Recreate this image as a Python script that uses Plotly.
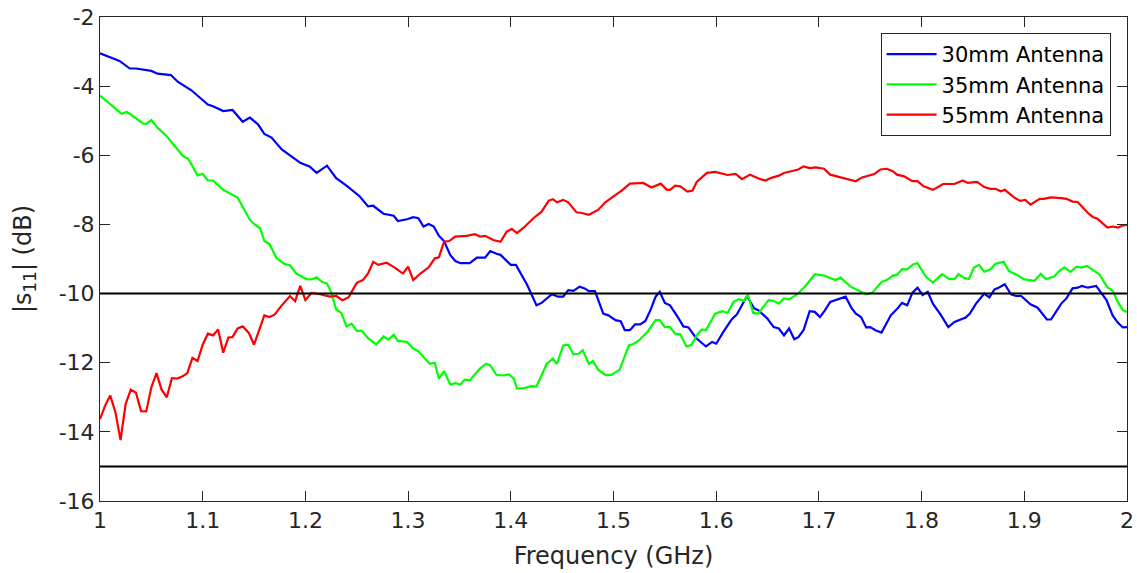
import plotly.graph_objects as go

# Measured reflection coefficient |S11| (dB) versus frequency (GHz)
freq_30mm = [1.000, 1.019, 1.029, 1.035, 1.050, 1.056, 1.069, 1.076, 1.089, 1.097,
             1.105, 1.110, 1.120, 1.129, 1.139, 1.146, 1.154, 1.160, 1.167, 1.177,
             1.185, 1.195, 1.204, 1.211, 1.221, 1.230, 1.240, 1.253, 1.261, 1.266,
             1.276, 1.286, 1.290, 1.299, 1.305, 1.310, 1.315, 1.320, 1.325, 1.330,
             1.335, 1.341, 1.346, 1.351, 1.360, 1.367, 1.375, 1.380, 1.386, 1.390,
             1.400, 1.405, 1.416, 1.425, 1.430, 1.440, 1.446, 1.451, 1.456, 1.461,
             1.467, 1.472, 1.476, 1.482, 1.490, 1.495, 1.502, 1.507, 1.511, 1.516,
             1.521, 1.526, 1.531, 1.536, 1.541, 1.545, 1.550, 1.555, 1.562, 1.568,
             1.573, 1.580, 1.586, 1.590, 1.596, 1.600, 1.607, 1.615, 1.620, 1.630,
             1.637, 1.641, 1.650, 1.656, 1.661, 1.666, 1.671, 1.676, 1.680, 1.685,
             1.691, 1.696, 1.701, 1.706, 1.711, 1.719, 1.726, 1.732, 1.736, 1.741,
             1.746, 1.750, 1.755, 1.761, 1.770, 1.776, 1.781, 1.786, 1.791, 1.796,
             1.801, 1.806, 1.811, 1.819, 1.826, 1.832, 1.838, 1.843, 1.847, 1.853,
             1.861, 1.866, 1.871, 1.875, 1.881, 1.887, 1.892, 1.897, 1.906, 1.913,
             1.922, 1.926, 1.936, 1.941, 1.947, 1.952, 1.956, 1.962, 1.970, 1.975,
             1.980, 1.986, 1.991, 1.996, 2.000]
s11_30mm = [-3.05, -3.27, -3.49, -3.49, -3.56, -3.64, -3.68, -3.88, -4.12, -4.33,
            -4.53, -4.58, -4.72, -4.69, -5.03, -4.91, -5.11, -5.38, -5.49, -5.83,
            -6.00, -6.22, -6.32, -6.51, -6.30, -6.66, -6.88, -7.19, -7.48, -7.46,
            -7.69, -7.75, -7.90, -7.85, -7.79, -7.82, -8.06, -7.99, -8.06, -8.33,
            -8.48, -8.88, -9.06, -9.12, -9.12, -8.96, -8.96, -8.77, -8.85, -8.88,
            -9.17, -9.17, -9.75, -10.34, -10.27, -10.02, -10.09, -10.09, -9.90, -9.92,
            -9.80, -9.85, -9.93, -9.93, -10.58, -10.63, -10.77, -10.80, -11.06, -11.06,
            -10.89, -10.89, -10.79, -10.48, -10.09, -9.95, -10.27, -10.34, -10.65, -10.95,
            -10.98, -11.27, -11.43, -11.53, -11.40, -11.45, -11.11, -10.75, -10.61, -10.07,
            -10.43, -10.48, -10.73, -10.97, -11.01, -11.21, -11.01, -11.32, -11.26, -11.06,
            -10.51, -10.53, -10.68, -10.48, -10.24, -10.16, -10.09, -10.43, -10.58, -10.68,
            -10.98, -10.97, -11.06, -11.13, -10.63, -10.45, -10.27, -10.34, -9.98, -9.83,
            -10.04, -9.95, -10.29, -10.63, -10.97, -10.82, -10.75, -10.69, -10.58, -10.29,
            -10.00, -10.11, -9.88, -9.83, -9.73, -10.02, -10.07, -10.07, -10.31, -10.41,
            -10.75, -10.75, -10.29, -10.14, -9.85, -9.83, -9.78, -9.83, -9.78, -9.98,
            -10.19, -10.63, -10.84, -10.98, -10.97]

freq_35mm = [1.000, 1.009, 1.021, 1.026, 1.030, 1.042, 1.045, 1.050, 1.056, 1.065,
             1.069, 1.074, 1.081, 1.086, 1.095, 1.100, 1.105, 1.110, 1.120, 1.134,
             1.146, 1.151, 1.156, 1.160, 1.165, 1.172, 1.180, 1.185, 1.191, 1.201,
             1.206, 1.211, 1.216, 1.221, 1.225, 1.230, 1.235, 1.240, 1.245, 1.250,
             1.255, 1.261, 1.269, 1.276, 1.281, 1.286, 1.290, 1.299, 1.305, 1.310,
             1.321, 1.326, 1.330, 1.335, 1.341, 1.346, 1.351, 1.355, 1.360, 1.370,
             1.376, 1.380, 1.386, 1.393, 1.398, 1.403, 1.406, 1.412, 1.420, 1.425,
             1.435, 1.441, 1.445, 1.451, 1.456, 1.461, 1.466, 1.470, 1.476, 1.480,
             1.485, 1.492, 1.498, 1.506, 1.515, 1.520, 1.525, 1.533, 1.541, 1.545,
             1.550, 1.555, 1.560, 1.565, 1.571, 1.576, 1.581, 1.586, 1.590, 1.599,
             1.606, 1.611, 1.617, 1.622, 1.627, 1.631, 1.636, 1.641, 1.651, 1.656,
             1.661, 1.666, 1.671, 1.679, 1.687, 1.696, 1.705, 1.716, 1.721, 1.731,
             1.741, 1.746, 1.752, 1.761, 1.766, 1.772, 1.776, 1.781, 1.786, 1.792,
             1.796, 1.804, 1.811, 1.820, 1.827, 1.832, 1.836, 1.841, 1.846, 1.851,
             1.856, 1.861, 1.867, 1.872, 1.880, 1.885, 1.893, 1.900, 1.910, 1.916,
             1.921, 1.929, 1.934, 1.939, 1.945, 1.951, 1.956, 1.961, 1.967, 1.973,
             1.981, 1.986, 1.991, 1.996, 2.000]
s11_35mm = [-4.27, -4.50, -4.80, -4.75, -4.82, -5.08, -5.09, -4.98, -5.20, -5.45,
            -5.59, -5.79, -6.03, -6.10, -6.58, -6.54, -6.73, -6.73, -7.00, -7.22,
            -7.87, -8.01, -8.11, -8.48, -8.57, -8.98, -9.15, -9.18, -9.42, -9.58,
            -9.59, -9.53, -9.66, -9.71, -9.95, -10.46, -10.56, -10.95, -10.87, -11.08,
            -11.08, -11.29, -11.47, -11.24, -11.33, -11.19, -11.37, -11.40, -11.59, -11.67,
            -12.03, -12.00, -12.46, -12.24, -12.63, -12.59, -12.63, -12.49, -12.51, -12.17,
            -12.03, -12.08, -12.35, -12.37, -12.34, -12.46, -12.74, -12.74, -12.68, -12.69,
            -12.03, -11.88, -12.03, -11.50, -11.48, -11.76, -11.74, -11.64, -12.03, -11.95,
            -12.20, -12.35, -12.35, -12.20, -11.50, -11.45, -11.35, -11.11, -10.77, -10.77,
            -10.97, -10.97, -11.16, -11.18, -11.53, -11.48, -11.21, -11.04, -11.06, -10.58,
            -10.51, -10.56, -10.24, -10.16, -10.21, -10.04, -10.56, -10.58, -10.19, -10.21,
            -10.29, -10.14, -10.17, -10.02, -9.78, -9.44, -9.48, -9.61, -9.54, -9.80,
            -9.96, -10.02, -9.98, -9.66, -9.61, -9.48, -9.46, -9.29, -9.30, -9.15,
            -9.12, -9.51, -9.68, -9.44, -9.58, -9.58, -9.44, -9.54, -9.58, -9.25,
            -9.17, -9.37, -9.30, -9.14, -9.08, -9.35, -9.46, -9.59, -9.63, -9.43,
            -9.58, -9.51, -9.35, -9.24, -9.37, -9.22, -9.25, -9.20, -9.32, -9.44,
            -9.82, -9.92, -10.24, -10.48, -10.53]

freq_55mm = [1.000, 1.005, 1.010, 1.015, 1.020, 1.025, 1.030, 1.035, 1.040, 1.045,
             1.050, 1.055, 1.060, 1.065, 1.070, 1.075, 1.080, 1.085, 1.090, 1.095,
             1.100, 1.105, 1.110, 1.115, 1.120, 1.125, 1.129, 1.134, 1.139, 1.145,
             1.150, 1.156, 1.160, 1.165, 1.170, 1.177, 1.185, 1.190, 1.195, 1.200,
             1.206, 1.214, 1.224, 1.230, 1.236, 1.242, 1.250, 1.256, 1.261, 1.266,
             1.271, 1.279, 1.287, 1.295, 1.300, 1.305, 1.312, 1.320, 1.326, 1.330,
             1.335, 1.340, 1.346, 1.357, 1.365, 1.370, 1.375, 1.383, 1.390, 1.396,
             1.401, 1.406, 1.412, 1.422, 1.430, 1.437, 1.441, 1.445, 1.451, 1.456,
             1.464, 1.469, 1.476, 1.485, 1.492, 1.500, 1.508, 1.516, 1.529, 1.537,
             1.546, 1.552, 1.555, 1.560, 1.565, 1.572, 1.577, 1.581, 1.591, 1.599,
             1.611, 1.619, 1.625, 1.633, 1.643, 1.648, 1.653, 1.661, 1.666, 1.676,
             1.680, 1.685, 1.691, 1.697, 1.705, 1.711, 1.721, 1.729, 1.736, 1.742,
             1.754, 1.760, 1.766, 1.772, 1.776, 1.783, 1.791, 1.796, 1.802, 1.811,
             1.815, 1.821, 1.832, 1.840, 1.845, 1.854, 1.861, 1.867, 1.872, 1.877,
             1.881, 1.890, 1.896, 1.901, 1.906, 1.915, 1.919, 1.926, 1.936, 1.941,
             1.947, 1.952, 1.962, 1.967, 1.971, 1.981, 1.986, 1.991, 1.996, 2.000]
s11_55mm = [-13.63, -13.24, -12.95, -13.43, -14.24, -13.19, -12.78, -12.87, -13.40, -13.41,
            -12.71, -12.30, -12.78, -13.00, -12.45, -12.46, -12.40, -12.30, -11.86, -11.95,
            -11.48, -11.16, -11.21, -11.04, -11.71, -11.27, -11.26, -11.01, -10.95, -11.14,
            -11.48, -10.98, -10.63, -10.68, -10.61, -10.34, -10.07, -10.22, -9.78, -10.19,
            -9.98, -10.02, -10.09, -10.07, -10.19, -10.11, -9.69, -9.61, -9.42, -9.08,
            -9.17, -9.11, -9.25, -9.42, -9.22, -9.61, -9.42, -9.24, -8.98, -8.95,
            -8.50, -8.48, -8.35, -8.33, -8.28, -8.35, -8.33, -8.45, -8.50, -8.21,
            -8.13, -8.25, -8.11, -7.82, -7.63, -7.31, -7.27, -7.36, -7.29, -7.36,
            -7.65, -7.67, -7.72, -7.58, -7.36, -7.19, -7.02, -6.82, -6.80, -6.93,
            -6.82, -7.00, -7.00, -6.88, -6.90, -7.05, -7.02, -6.77, -6.51, -6.48,
            -6.57, -6.54, -6.69, -6.56, -6.69, -6.73, -6.66, -6.59, -6.51, -6.44,
            -6.41, -6.32, -6.37, -6.35, -6.39, -6.56, -6.63, -6.68, -6.75, -6.64,
            -6.54, -6.41, -6.39, -6.46, -6.56, -6.61, -6.75, -6.75, -6.90, -7.00,
            -6.93, -6.83, -6.83, -6.73, -6.80, -6.77, -6.92, -6.97, -6.97, -7.04,
            -7.00, -7.22, -7.32, -7.29, -7.43, -7.26, -7.26, -7.22, -7.24, -7.26,
            -7.34, -7.35, -7.67, -7.79, -7.83, -8.09, -8.06, -8.09, -8.03, -8.01]

series_names = ["30mm Antenna", "35mm Antenna", "55mm Antenna"]
series_colors = ["#0000ff", "#00ff00", "#ff0000"]

# Axis ticks (labels use a plain hyphen for the minus sign)
x_tickvals = [1.0, 1.1, 1.2, 1.3, 1.4, 1.5, 1.6, 1.7, 1.8, 1.9, 2.0]
x_ticktext = ["1", "1.1", "1.2", "1.3", "1.4", "1.5", "1.6", "1.7", "1.8", "1.9", "2"]
y_tickvals = [-16, -14, -12, -10, -8, -6, -4, -2]
y_ticktext = ["-16", "-14", "-12", "-10", "-8", "-6", "-4", "-2"]

# Reference levels (dB)
threshold_levels = [-10, -15]

AXIS_COLOR = "#262626"
FONT = "DejaVu Sans"

fig = go.Figure()
for name, color, fx, fy in zip(series_names, series_colors,
                               [freq_30mm, freq_35mm, freq_55mm],
                               [s11_30mm, s11_35mm, s11_55mm]):
    fig.add_trace(go.Scatter(x=fx, y=fy, mode="lines", name=name,
                             line=dict(color=color, width=2.2)))

for level in threshold_levels:
    fig.add_shape(type="line", xref="x", yref="y", x0=1, x1=2, y0=level, y1=level,
                  line=dict(color="black", width=2), layer="above")

axis_common = dict(
    showgrid=False, zeroline=False, showline=True, linecolor=AXIS_COLOR,
    linewidth=1, mirror="allticks", ticks="inside", ticklen=10,
    tickcolor=AXIS_COLOR, tickwidth=1, automargin=False,
    tickfont=dict(family=FONT, size=22, color=AXIS_COLOR),
)

fig.update_layout(
    width=1137, height=573,
    margin=dict(l=100, r=10, t=17, b=72),
    paper_bgcolor="white", plot_bgcolor="white",
    font=dict(family=FONT, color=AXIS_COLOR),
    xaxis=dict(range=[1, 2], tickmode="array", tickvals=x_tickvals, ticktext=x_ticktext,
               title=dict(text="Frequency (GHz)", font=dict(family=FONT, size=24, color=AXIS_COLOR), standoff=14),
               **axis_common),
    yaxis=dict(range=[-16, -2], tickmode="array", tickvals=y_tickvals, ticktext=y_ticktext,
               title=dict(text="|s<sub>11</sub>| (dB)", font=dict(family=FONT, size=24, color=AXIS_COLOR), standoff=20),
               **axis_common),
    legend=dict(x=0.984, y=0.967, xanchor="right", yanchor="top",
                bgcolor="white", bordercolor=AXIS_COLOR, borderwidth=1,
                font=dict(family=FONT, size=21, color="black"),
                itemwidth=50, tracegroupgap=0),
    showlegend=True,
)

fig.write_html("out.html")
